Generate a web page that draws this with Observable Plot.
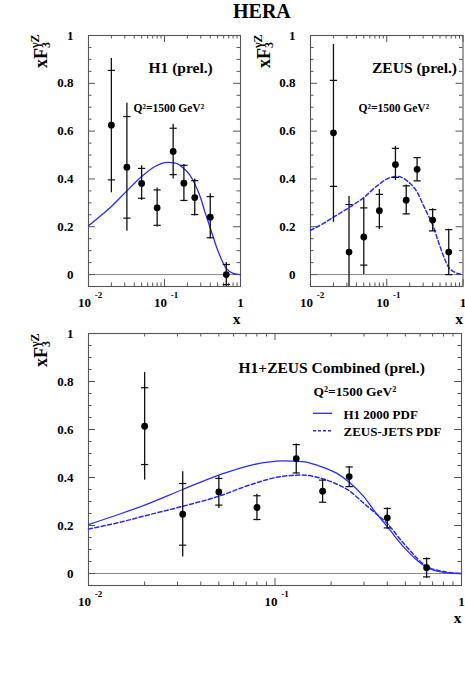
<!DOCTYPE html>
<html><head><meta charset="utf-8">
<script src="https://cdn.jsdelivr.net/npm/d3@7"></script>
<script src="https://cdn.jsdelivr.net/npm/@observablehq/plot@0.6"></script>
<style>
html,body{margin:0;padding:0;background:#fff;}
#root{position:relative;width:465px;height:685px;background:#fff;overflow:hidden;}
#root svg{position:absolute;overflow:visible;background:transparent;}
#title{position:absolute;left:233px;top:0px;font:bold 20px "Liberation Serif","Times New Roman",serif;line-height:22px;color:#000;}
</style></head><body>
<div id="root"><div id="title">HERA</div></div>
<script>
// ---------- data ----------
const xBins = [0.02, 0.032, 0.05, 0.08, 0.13, 0.18, 0.25, 0.40, 0.65];

const h1Y      = [0.625, 0.449, 0.381, 0.279, 0.515, 0.382, 0.322, 0.240, 0.000];
const h1StatLo = [0.396, 0.236, 0.319, 0.206, 0.418, 0.310, 0.251, 0.154, -0.042];
const h1StatHi = [0.854, 0.661, 0.444, 0.354, 0.612, 0.457, 0.393, 0.326, 0.042];
const h1TotLo  = [0.342, 0.181, 0.310, 0.199, 0.400, 0.305, 0.245, 0.149, -0.050];
const h1TotHi  = [0.904, 0.717, 0.455, 0.362, 0.629, 0.460, 0.400, 0.338, 0.050];

const zeusY      = [0.593, 0.094, 0.157, 0.267, 0.460, 0.311, 0.440, 0.228, 0.094];
const zeusStatLo = [0.369, -0.100, 0.039, 0.200, 0.406, 0.254, 0.392, 0.183, 0.000];
const zeusStatHi = [0.812, 0.293, 0.279, 0.335, 0.528, 0.371, 0.489, 0.272, 0.188];
const zeusTotLo  = [0.219, -0.150, 0.000, 0.188, 0.393, 0.250, 0.390, 0.180, 0.000];
const zeusTotHi  = [0.962, 0.326, 0.317, 0.356, 0.536, 0.375, 0.490, 0.275, 0.190];

const combY      = [0.614, 0.247, 0.340, 0.275, 0.479, 0.343, 0.404, 0.232, 0.024];
const combStatLo = [0.454, 0.118, 0.285, 0.225, 0.419, 0.297, 0.362, 0.190, -0.014];
const combStatHi = [0.774, 0.375, 0.396, 0.324, 0.537, 0.389, 0.444, 0.271, 0.062];
const combTotLo  = [0.389, 0.069, 0.271, 0.220, 0.415, 0.295, 0.360, 0.185, -0.020];
const combTotHi  = [0.837, 0.424, 0.406, 0.330, 0.540, 0.390, 0.446, 0.273, 0.065];

const curveX   = [0.01, 0.015, 0.02, 0.032, 0.05, 0.074, 0.11, 0.14, 0.17, 0.215, 0.25, 0.30, 0.34, 0.40, 0.49, 0.65, 0.80, 1.0];
const h1PdfY   = [0.204, 0.250, 0.285, 0.350, 0.410, 0.451, 0.469, 0.466, 0.450, 0.417, 0.380, 0.319, 0.262, 0.195, 0.110, 0.026, 0.005, 0.0];
const zeusPdfY = [0.185, 0.215, 0.240, 0.280, 0.322, 0.370, 0.405, 0.410, 0.400, 0.372, 0.345, 0.292, 0.256, 0.208, 0.125, 0.030, 0.008, 0.0];

const xMajor = [0.01, 0.1, 1];
const xMajorText = ["10", "10", "1"];
const xMajorExp = ["-2", "-1", ""];
const xMinor = [0.02, 0.03, 0.04, 0.05, 0.06, 0.07, 0.08, 0.09, 0.2, 0.3, 0.4, 0.5, 0.6, 0.7, 0.8, 0.9];
const yMajor = [0, 0.2, 0.4, 0.6, 0.8, 1];
const yMajorText = ["0", "0.2", "0.4", "0.6", "0.8", "1"];
const yMinor = [0.05, 0.1, 0.15, 0.25, 0.3, 0.35, 0.45, 0.5, 0.55, 0.65, 0.7, 0.75, 0.85, 0.9, 0.95];

const yLabelMain = "xF", yLabelSub = "3", yLabelSup = "γZ";
const xLabel = "x";
const q2Text = "Q²=1500 GeV²";
const legendNames = ["H1 2000 PDF", "ZEUS-JETS PDF"];

// ---------- helpers ----------
const FONT = '"Liberation Serif","Times New Roman",serif';
const BLUE = "#2a2aff";
const hbar = {draw(ctx, size) { const w = Math.sqrt(size / Math.PI); ctx.moveTo(-w, 0); ctx.lineTo(w, 0); }};
const rows = (Y, sL, sH, tL, tH) => xBins.map((x, i) => ({x, y: Y[i], sL: sL[i], sH: sH[i], tL: tL[i], tH: tH[i]}));
const curveRows = (Y) => curveX.map((x, i) => ({x, y: Y[i]}));

function panel(cfg) {
  const {left, top, width, height, mt, mb, ml, mr, pts, curves, texts, yLab} = cfg;
  const fw = width - ml - mr, fh = height - mt - mb;
  const tc = "#555";
  const ax = {label: null, fontSize: 13, fontWeight: "bold", tickSize: 0};
  const marks = [
    Plot.ruleY([0], {stroke: "#888", strokeWidth: 1}),
    Plot.tickX(xMajor, {x: d => d, insetTop: fh - 7, stroke: tc}),
    Plot.tickX(xMajor, {x: d => d, insetBottom: fh - 7, stroke: tc}),
    Plot.tickX(xMinor, {x: d => d, insetTop: fh - 3.5, stroke: tc}),
    Plot.tickX(xMinor, {x: d => d, insetBottom: fh - 3.5, stroke: tc}),
    Plot.tickY(yMajor, {y: d => d, insetRight: fw - 7, stroke: tc}),
    Plot.tickY(yMajor, {y: d => d, insetLeft: fw - 7, stroke: tc}),
    Plot.tickY(yMinor, {y: d => d, insetRight: fw - 3.5, stroke: tc}),
    Plot.tickY(yMinor, {y: d => d, insetLeft: fw - 3.5, stroke: tc}),
    Plot.frame({stroke: "#555", strokeWidth: 1.1}),
    ...curves.map(c => Plot.line(curveRows(c.y), {x: "x", y: "y", curve: "monotone-x", stroke: BLUE, strokeWidth: c.dashed ? 1.5 : 1.3, strokeDasharray: c.dashed ? "4,2.5" : null})),
    Plot.ruleX(pts, {x: "x", y1: "tL", y2: "tH", stroke: "#111", strokeWidth: 1.3, clip: true}),
    Plot.dot(pts, {x: "x", y: "sL", symbol: hbar, r: 3.6, stroke: "#111", fill: "none", strokeWidth: 1.2, clip: true}),
    Plot.dot(pts, {x: "x", y: "sH", symbol: hbar, r: 3.6, stroke: "#111", fill: "none", strokeWidth: 1.2, clip: true}),
    Plot.dot(pts, {x: "x", y: "y", r: 3.4, fill: "#000", stroke: "none", clip: true}),
    Plot.axisY(yMajor, {...ax, anchor: "left", tickPadding: cfg.yPad, tickFormat: d => yMajorText[yMajor.indexOf(d)]}),
    Plot.axisX(xMajor.slice(0, 2), {...ax, anchor: "bottom", tickPadding: 11, tickFormat: d => xMajorText[xMajor.indexOf(d)], dx: -4}),
    Plot.axisX(xMajor.slice(2), {...ax, anchor: "bottom", tickPadding: 11, tickFormat: d => xMajorText[xMajor.indexOf(d)]}),
    Plot.axisX(xMajor.slice(0, 2), {...ax, anchor: "bottom", tickPadding: 5, tickFormat: d => xMajorExp[xMajor.indexOf(d)], dx: 10, fontSize: 9}),
    Plot.text([xLabel], {frameAnchor: "bottom-right", dy: 37, lineAnchor: "bottom", textAnchor: "end", fontSize: 15.5, fontWeight: "bold"}),
    ...texts.map(t => Plot.text([t.text], {frameAnchor: t.anchor, dx: t.dx, dy: t.dy, lineAnchor: "bottom", textAnchor: t.ta || "start", fontSize: t.size, fontWeight: "bold"}))
  ];
  const svg = Plot.plot({
    width, height, marginTop: mt, marginBottom: mb, marginLeft: ml, marginRight: mr,
    x: {type: "log", domain: [0.01, 1], label: null},
    y: {domain: [-0.05, 1], label: null},
    style: {fontFamily: FONT, fontWeight: "bold", fontSize: "13px", color: "#000", background: "transparent", overflow: "visible"},
    marks
  });
  svg.style.left = left + "px";
  svg.style.top = top + "px";
  // y label with sub/superscript
  const t = d3.select(svg).append("text")
    .attr("transform", `translate(${yLab[0]},${yLab[1]}) rotate(-90)`)
    .attr("text-anchor", "start")
    .attr("font-family", FONT).attr("font-weight", "bold").attr("font-size", 18).attr("fill", "#000");
  t.append("tspan").text(yLabelMain);
  t.append("tspan").attr("font-size", 12).attr("dy", 3).text(yLabelSub);
  t.append("tspan").attr("font-size", 12).attr("dx", -6).attr("dy", -11).text(yLabelSup);
  if (cfg.after) cfg.after(svg);
  document.getElementById("root").appendChild(svg);
}

// H1 panel
panel({
  left: 0, top: 0, width: 245, height: 330, mt: 35, mb: 44, ml: 88, mr: 5, yPad: 15,
  pts: rows(h1Y, h1StatLo, h1StatHi, h1TotLo, h1TotHi),
  curves: [{y: h1PdfY, dashed: false}],
  texts: [
    {text: "H1 (prel.)", anchor: "top-left", dx: 60, dy: 37, size: 15.5},
    {text: q2Text, anchor: "top-left", dx: 45, dy: 76, size: 11.5}
  ],
  yLab: [47, 68]
});

// ZEUS panel
panel({
  left: 245, top: 0, width: 220, height: 330, mt: 35, mb: 44, ml: 65, mr: 2.5, yPad: 15,
  pts: rows(zeusY, zeusStatLo, zeusStatHi, zeusTotLo, zeusTotHi),
  curves: [{y: zeusPdfY, dashed: true}],
  texts: [
    {text: "ZEUS (prel.)", anchor: "top-right", dx: -6, dy: 37, size: 15.5, ta: "end"},
    {text: q2Text, anchor: "top-left", dx: 48, dy: 76, size: 11.5}
  ],
  yLab: [25, 68]
});

// Combined panel
panel({
  left: 0, top: 310, width: 465, height: 310, mt: 23, mb: 35, ml: 88, mr: 4, yPad: 15,
  pts: rows(combY, combStatLo, combStatHi, combTotLo, combTotHi),
  curves: [{y: h1PdfY, dashed: false}, {y: zeusPdfY, dashed: true}],
  texts: [
    {text: "H1+ZEUS Combined (prel.)", anchor: "top-left", dx: 150, dy: 39, size: 15.5},
    {text: q2Text, anchor: "top-left", dx: 225, dy: 62, size: 13.5},
    {text: legendNames[0], anchor: "top-left", dx: 255, dy: 85, size: 13},
    {text: legendNames[1], anchor: "top-left", dx: 255, dy: 102, size: 13}
  ],
  yLab: [47, 57],
  after(svg) {
    const g = d3.select(svg).append("g").attr("stroke", BLUE).attr("fill", "none");
    g.append("line").attr("x1", 313).attr("x2", 332).attr("y1", 103.3).attr("y2", 103.3).attr("stroke-width", 1.3);
    g.append("line").attr("x1", 313).attr("x2", 332).attr("y1", 120.7).attr("y2", 120.7).attr("stroke-width", 1.5).attr("stroke-dasharray", "3,2");
  }
});
</script>
</body></html>
